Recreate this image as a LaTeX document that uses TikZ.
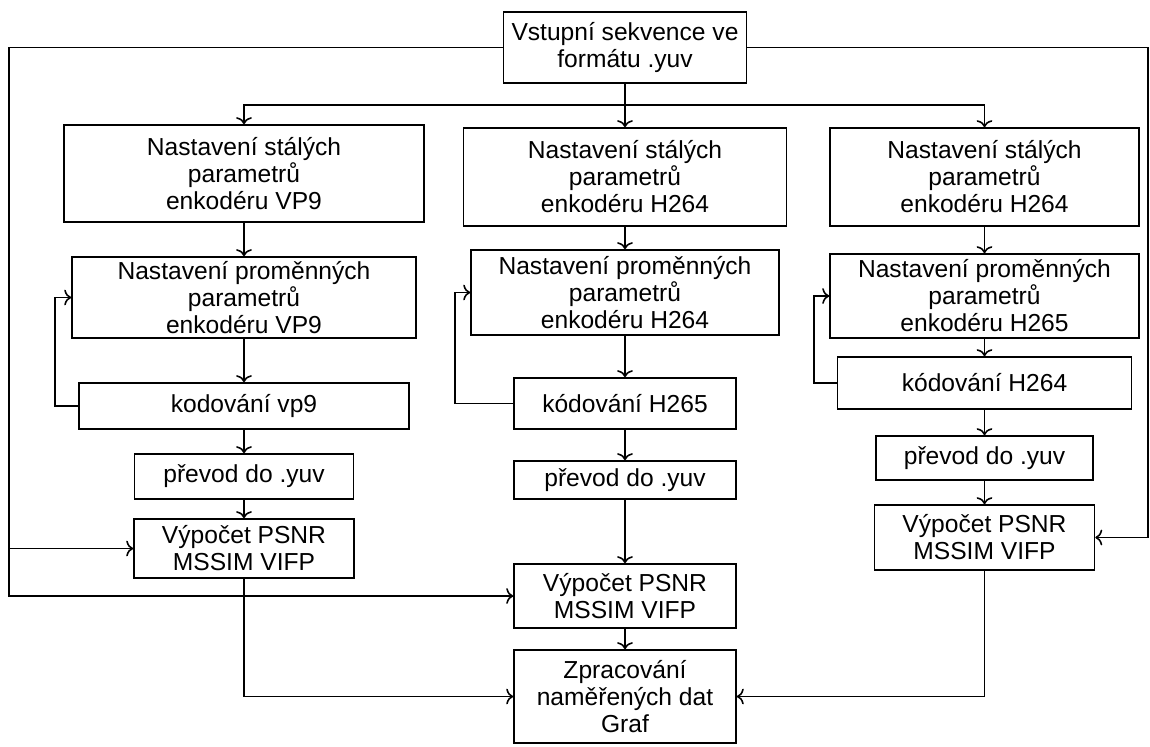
\documentclass[tikz,border=0pt]{standalone}
\usepackage{fontspec}
\setmainfont{Liberation Sans}
\usepackage{tikz}
\usetikzlibrary{arrows, arrows.meta, positioning, calc}

\tikzset{
    blok/.style={draw, line width=0.9pt, align=center, inner sep=0pt, font=\fontsize{14}{15.4}\selectfont},
    sipka/.style={-{To[length=4pt,width=9pt]}, line width=0.9pt},
    cara/.style={line width=0.9pt}
}

\begin{document}
\begin{tikzpicture}[x=0.02cm, y=-0.02cm]
        \useasboundingbox (0,0) rectangle (1150,747);

        \node[blok, minimum width=4.86cm, minimum height=1.42cm] (vstup) at (625,47.5) {Vstupní sekvence ve\\formátu .yuv};

        \node[blok, minimum width=7.2cm, minimum height=1.94cm] (vpA) at (244,173.5) {Nastavení stálých\\parametrů\\enkodéru VP9};
        \node[blok, minimum width=6.88cm, minimum height=1.62cm] (vpB) at (244,297.5) {Nastavení proměnných\\parametrů\\enkodéru VP9};
        \node[blok, minimum width=6.6cm, minimum height=0.92cm] (vpC) at (244,406) {kodování vp9};
        \node[blok, minimum width=4.38cm, minimum height=0.9cm] (vpD) at (244,476.5) {převod do .yuv};
        \node[blok, minimum width=4.4cm, minimum height=1.18cm] (vpE) at (244,548.5) {Výpočet PSNR\\MSSIM VIFP};

        \node[blok, minimum width=6.46cm, minimum height=1.96cm] (hA) at (625,177) {Nastavení stálých\\parametrů\\enkodéru H264};
        \node[blok, minimum width=6.16cm, minimum height=1.7cm] (hB) at (625,292.5) {Nastavení proměnných\\parametrů\\enkodéru H264};
        \node[blok, minimum width=4.44cm, minimum height=1.02cm] (hC) at (625,403.5) {kódování H265};
        \node[blok, minimum width=4.44cm, minimum height=0.76cm] (hD) at (625,480) {převod do .yuv};
        \node[blok, minimum width=4.44cm, minimum height=1.28cm] (hE) at (625,596) {Výpočet PSNR\\MSSIM VIFP};
        \node[blok, minimum width=4.44cm, minimum height=1.86cm] (graf) at (625,696.5) {Zpracování\\naměřených dat\\Graf};

        \node[blok, minimum width=6.18cm, minimum height=1.96cm] (kA) at (984.5,177) {Nastavení stálých\\parametrů\\enkodéru H264};
        \node[blok, minimum width=6.18cm, minimum height=1.68cm] (kB) at (984.5,296) {Nastavení proměnných\\parametrů\\enkodéru H265};
        \node[blok, minimum width=5.88cm, minimum height=1.04cm] (kC) at (984.5,383) {kódování H264};
        \node[blok, minimum width=4.34cm, minimum height=0.88cm] (kD) at (984.5,458) {převod do .yuv};
        \node[blok, minimum width=4.4cm, minimum height=1.3cm] (kE) at (984.5,537.5) {Výpočet PSNR\\MSSIM VIFP};

        \coordinate (rozdel) at (625,105);
        \coordinate (levo) at (9,300);
        \coordinate (pravo) at (1148,300);

        \draw[cara] (vstup.south) -- (rozdel);
        \draw[sipka] (rozdel) -| (vpA.north);
        \draw[sipka] (rozdel) -- (hA.north);
        \draw[sipka] (rozdel) -| (kA.north);

        \draw[sipka] (vstup.west) -| (levo) |- (hE.west);
        \draw[sipka] (levo |- vpE.west) -- (vpE.west);
        \draw[sipka] (vstup.east) -| (pravo) |- (kE.east);

        \draw[sipka] (vpA) -- (vpB);
        \draw[sipka] (vpB) -- (vpC);
        \draw[sipka] (vpC) -- (vpD);
        \draw[sipka] (vpD) -- (vpE);
        \draw[sipka] (vpC.west) -- ++(-23,0) |- (vpB.west);

        \draw[sipka] (hA) -- (hB);
        \draw[sipka] (hB) -- (hC);
        \draw[sipka] (hC) -- (hD);
        \draw[sipka] (hD) -- (hE);
        \draw[sipka] (hE) -- (graf);
        \draw[sipka] (hC.west) -- ++(-58,0) |- (hB.west);

        \draw[sipka] (kA) -- (kB);
        \draw[sipka] (kB) -- (kC);
        \draw[sipka] (kC) -- (kD);
        \draw[sipka] (kD) -- (kE);
        \draw[sipka] (kC.west) -- ++(-23,0) |- (kB.west);

        \draw[sipka] (vpE.south) |- (graf.west);
        \draw[sipka] (kE.south) |- (graf.east);
    \end{tikzpicture}
\end{document}
